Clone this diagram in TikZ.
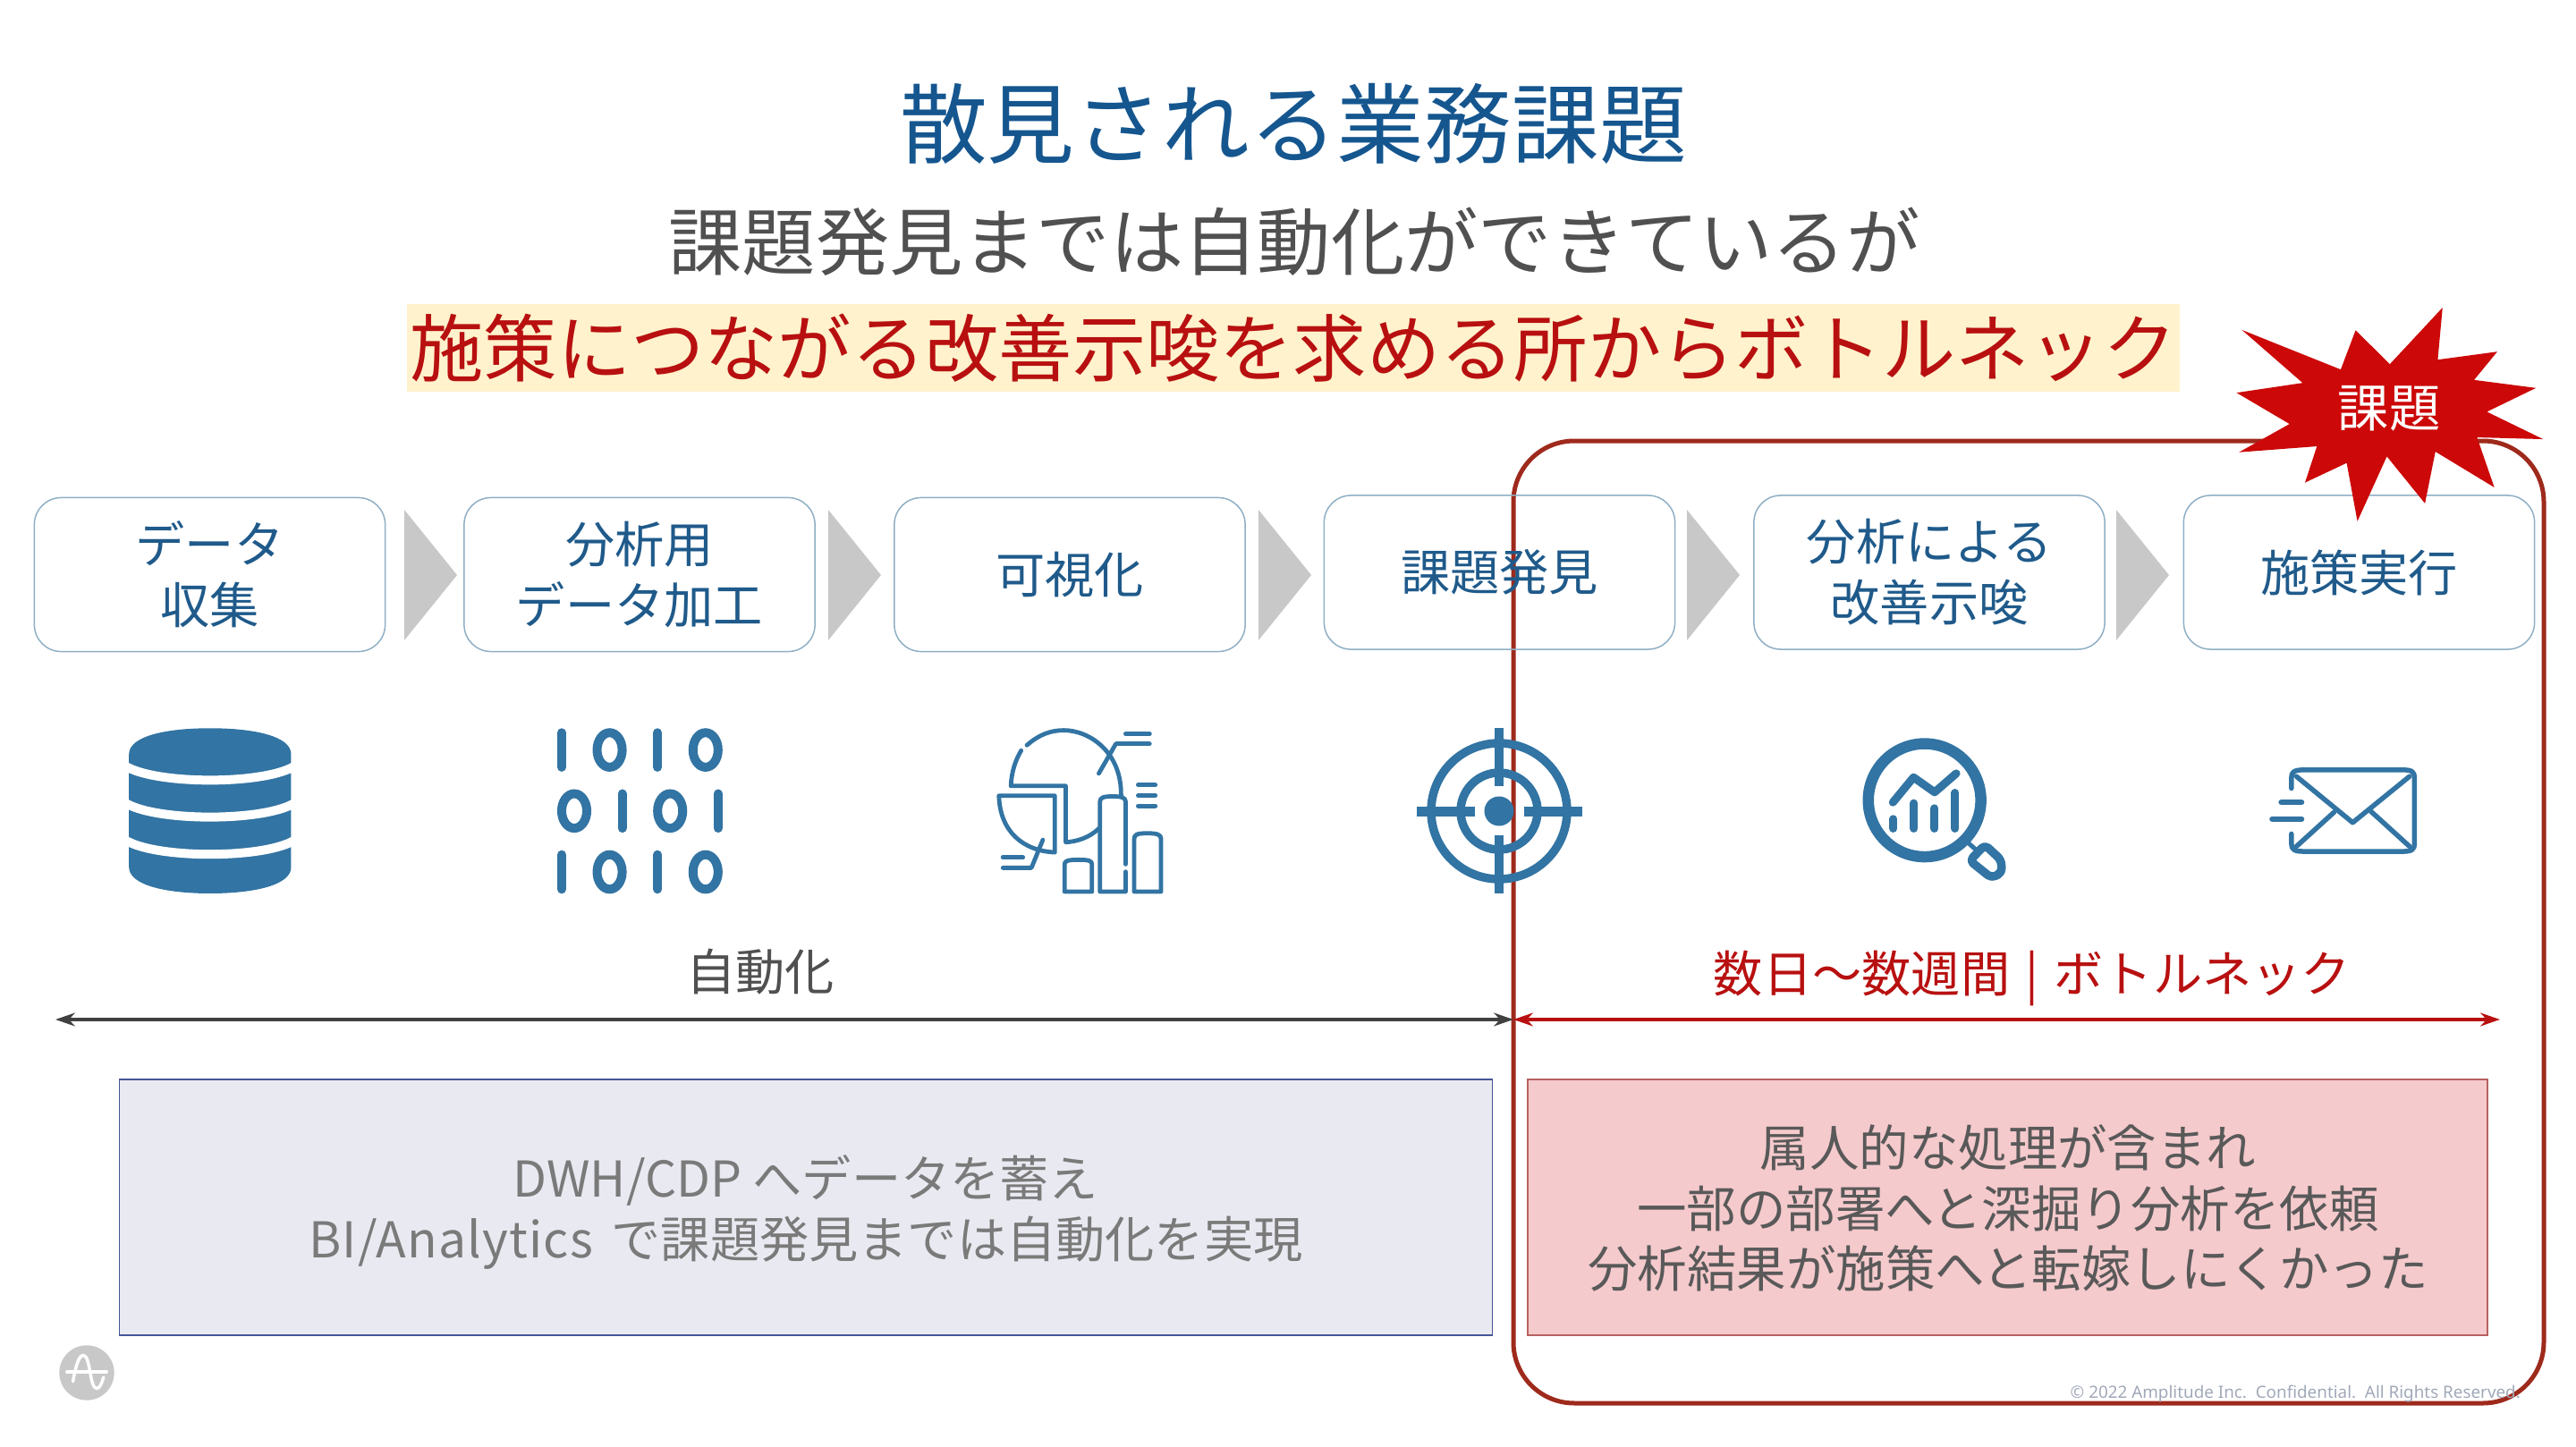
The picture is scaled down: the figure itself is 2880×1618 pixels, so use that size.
\documentclass[tikz,border=0pt]{standalone}
\usepackage{fontspec}
\setmainfont{Noto Sans CJK JP}
\newfontfamily\footfont{Noto Sans}
\newfontfamily\widelatin[LetterSpace=2.2]{Noto Sans CJK JP}
\usetikzlibrary{arrows.meta}
\definecolor{iconblue}{HTML}{3274A3}
\definecolor{titleblue}{HTML}{15568F}
\definecolor{boxtext}{HTML}{1F5A8A}
\definecolor{boxline}{HTML}{8FAFC4}
\definecolor{frame}{HTML}{9E2A1C}
\definecolor{chev}{HTML}{C8C8C8}
\definecolor{darkt}{HTML}{505050}
\definecolor{redt}{HTML}{B81010}
\definecolor{starred}{HTML}{CC0808}
\definecolor{hilite}{HTML}{FFF2CC}
\definecolor{footc}{HTML}{A0A8B8}
\tikzset{
  stagebox/.style={draw=boxline,line width=0.015cm,rounded corners=0.3cm,minimum width=3.92cm,minimum height=1.72cm,align=center,text=boxtext,font=\fontsize{15.7}{19.3}\selectfont,inner sep=0pt},
  chevron/.style={fill=chev,draw=none},
  icon/.style={draw=iconblue,line cap=round,line join=round},
  body/.style={font=\fontsize{15.7}{19.3}\selectfont,align=center,inner sep=0pt},
  zone1/.style={shift={(0,780)},x=0.006378cm,y=-0.003333cm},
  zone2/.style={shift={(1000,780)},x=0.006378cm,y=-0.003333cm},
  zone3/.style={shift={(2000,780)},x=0.005612cm,y=-0.003333cm},
  tip/.style={{Stealth[length=0.22cm,width=0.15cm]}-{Stealth[length=0.22cm,width=0.15cm]}}
}
\begin{document}
\begin{tikzpicture}[x=0.01cm,y=-0.01cm]
\useasboundingbox (0,0) rectangle (2880,1618);
% headline
\node[text=titleblue,font=\fontsize{27.8}{32}\selectfont,inner sep=0pt] (title) at (1446,138) {散見される業務課題};
\node[text=darkt,font=\fontsize{23.4}{28}\selectfont,inner sep=0pt] (sub) at (1447,270) {課題発見までは自動化ができているが};
\fill[hilite] (455,340) rectangle (2437,438);
\node[text=redt,font=\fontsize{23.4}{28}\selectfont,inner sep=0pt] (sub2) at (1446,389) {施策につながる改善示唆を求める所からボトルネック};
% frame
\draw[frame,line width=0.05cm,rounded corners=0.68cm] (1692,493) rectangle (2844,1569);
% stage boxes
\node[stagebox] (s1) at (234.5,642.5) {データ\\収集};
\node[stagebox] (s2) at (715,642.5) {分析用\\データ加工};
\node[stagebox] (s3) at (1196,642.5) {可視化};
\node[stagebox] (s4) at (1676.5,640) {課題発見};
\node[stagebox] (s5) at (2157,640) {分析による\\改善示唆};
\node[stagebox] (s6) at (2637.5,640) {施策実行};
% chevrons
\foreach \xa in {452,926,1407,1886,2366}{
  \fill[chevron] (\xa,570) -- (\xa+59,643) -- (\xa,716) -- cycle;
}
% database
\begin{scope}[zone1]
  \fill[iconblue] (226,190) .. controls (226,130) and (290,103) .. (368,103) .. controls (446,103) and (510,130) .. (510,190)
     -- (510,570) .. controls (510,630) and (446,658) .. (368,658) .. controls (290,658) and (226,630) .. (226,570) -- cycle;
  \foreach \yy in {228,352,477}{
    \draw[white,line width=0.1cm] (218,\yy) .. controls (270,\yy+66) and (466,\yy+66) .. (518,\yy);
  }
  % binary digits
  \foreach \yy in {176,586}{
    \foreach \xx in {984,1152}{\draw[iconblue,line width=0.1cm,line cap=round] (\xx,\yy-58) -- (\xx,\yy+58);}
    \foreach \xx in {1068,1236}{\draw[iconblue,line width=0.1cm] (\xx,\yy) ellipse [x radius=22,y radius=58];}
  }
  \foreach \xx in {1090,1258}{\draw[iconblue,line width=0.1cm,line cap=round] (\xx,323) -- (\xx,439);}
  \foreach \xx in {1006,1174}{\draw[iconblue,line width=0.1cm] (\xx,381) ellipse [x radius=22,y radius=58];}
\end{scope}
% chart icon
\begin{scope}[zone2]
  \begin{scope}[icon,line width=0.048cm]
  \draw (232,160) .. controls (255,122) and (275,110) .. (297,110) .. controls (340,110) and (398,180) .. (397,328);
  \draw (222,178) .. controls (212,210) and (205,250) .. (204,297) -- (300,297) -- (300,486) .. controls (320,484) and (342,470) .. (358,440);
  \draw (183,330) -- (281,330) -- (281,520) .. controls (225,515) and (185,450) .. (183,330);
  \draw (298,652) -- (298,560) .. controls (298,548) and (305,545) .. (322,545) .. controls (340,545) and (346,548) .. (346,560) -- (346,652) -- cycle;
  \draw (405,560) -- (405,350) .. controls (405,336) and (398,332) .. (382,332) .. controls (366,332) and (360,336) .. (360,350) -- (360,652) -- (405,652) -- (405,585);
  \draw (420,652) -- (420,475) .. controls (420,460) and (425,456) .. (443,456) .. controls (460,456) and (467,460) .. (467,475) -- (467,652) -- cycle;
  \draw (447,155) -- (388,155) -- (358,255);
  \draw (190,572) -- (240,572) -- (260,478);
  \end{scope}
  \foreach \a/\b/\c in {405/447/122,427/457/294,427/457/329,427/457/364,190/225/537}{
    \draw[icon,line width=0.05cm] (\a,\c) -- (\b,\c);
  }
\end{scope}
% target icon
\draw[iconblue,line width=0.095cm] (1676,907) circle [radius=76];
\draw[iconblue,line width=0.095cm] (1676,907) circle [radius=43];
\fill[iconblue] (1676,907) circle [radius=16.5];
\draw[iconblue,line width=0.1cm] (1676,814) -- (1676,879) (1676,934) -- (1676,999);
\draw[iconblue,line width=0.11cm] (1584,907) -- (1649,907) (1703.5,907) -- (1769,907);
% magnifier + envelope
\begin{scope}[zone3]
  \draw[iconblue,line width=0.125cm] (270,345) ellipse [x radius=112,y radius=190];
  \draw[icon,line width=0.09cm] (207,352) -- (248,268) -- (290,318) -- (333,255);
  \draw[icon,line width=0.09cm] (208,408) -- (208,440);
  \draw[icon,line width=0.09cm] (249,355) -- (249,440);
  \draw[icon,line width=0.09cm] (290,372) -- (290,440);
  \draw[icon,line width=0.09cm] (331,320) -- (331,440);
  \draw[icon,line width=0.05cm] (358,490) -- (385,530);
  \draw[icon,line width=0.095cm,fill=white,rounded corners=0.05cm] (360,548) -- (390,495) -- (422,545) -- (424,588) -- (403,606) -- cycle;
  \begin{scope}[icon,line width=0.055cm]
  \draw (1000,305) -- (1000,270) .. controls (1000,250) and (1005,243) .. (1025,243) -- (1222,243) .. controls (1240,243) and (1245,250) .. (1245,270)
     -- (1245,490) .. controls (1245,510) and (1240,517) .. (1222,517) -- (1025,517) .. controls (1005,517) and (1000,510) .. (1000,490) -- (1000,458);
  \draw (1010,265) -- (1122,420) -- (1235,265);
  \draw (1085,385) -- (1010,500);
  \draw (1158,382) -- (1235,500);
  \end{scope}
  \draw[icon,line width=0.065cm] (980,352) -- (1020,352);
  \draw[icon,line width=0.065cm] (962,408) -- (1020,408);
\end{scope}
% span labels and arrows
\node[body,text=darkt] (auto) at (850,1087) {自動化};
\node[body,text=redt] (bott) at (2272,1094) {数日〜数週間\hspace{0.09em} | \hspace{0.09em}ボトルネック};
\coordinate (ha) at (62,1140);
\coordinate (hb) at (1692,1140);
\coordinate (hc) at (2795,1140);
\draw[tip,draw=black!75,fill=black!75,line width=0.032cm] (ha) -- (hb);
\draw[tip,draw=redt,fill=redt,line width=0.032cm] (hb) -- (hc);
% bottom panels
\node[draw={rgb,255:red,70;green,85;blue,150},fill={rgb,255:red,233;green,234;blue,241},line width=0.018cm,minimum width=15.34cm,minimum height=2.86cm,inner sep=0pt] (pl) at (901,1350) {};
\node[body,text=black!52] (plt) at (901,1355) {DWH/CDP へデータを蓄え\\{\widelatin BI/Analytics} \hspace{0.15em}で課題発見までは自動化を実現};
\node[draw={rgb,255:red,184;green,96;blue,96},fill={rgb,255:red,245;green,202;blue,204},line width=0.018cm,minimum width=10.73cm,minimum height=2.86cm,inner sep=0pt] (pr) at (2244.5,1350) {};
\node[body,text=black!65,font=\fontsize{15.78}{19.3}\selectfont] (prt) at (2245,1351) {属人的な処理が含まれ\\一部の部署へと深掘り分析を依頼\\分析結果が施策へと転嫁しにくかった};
% star
\begin{scope}[shift={(2380,320)},x=0.003333cm,y=-0.003333cm]
  \fill[starred] (380,147) -- (712,280) -- (762,148) -- (877,262) -- (1054,72) -- (1038,247) -- (1238,220) -- (1160,315) -- (1368,342) -- (1203,422) -- (1392,514) -- (1170,508) -- (1228,676) -- (1030,556) -- (995,730) -- (867,572) -- (768,790) -- (732,594) -- (592,660) -- (632,538) -- (370,558) -- (540,463) -- (362,358) -- (584,325) -- cycle;
\end{scope}
\node[text=white,font=\fontsize{16.3}{20}\selectfont,inner sep=0pt] (kadai) at (2671,457) {課題};
% logo
\fill[chev] (97,1535) circle [radius=30.7];
\begin{scope}[shift={(0,1450)},x=0.003333cm,y=-0.003333cm]
  \draw[white,line width=0.035cm,line cap=round] (225,252) -- (358,252);
  \draw[white,line width=0.035cm,line cap=round] (245,285) .. controls (255,230) and (265,197) .. (280,197) .. controls (305,197) and (300,308) .. (325,308) .. controls (335,308) and (342,290) .. (348,270);
\end{scope}
% footer
\node[anchor=west,text=footc,font=\footfont\fontsize{5.36}{6}\selectfont,inner sep=0pt] (foot) at (2314,1559) {© 2022 Amplitude Inc.\ \ Confidential.\ \ All Rights Reserved.};
\end{tikzpicture}
\end{document}
